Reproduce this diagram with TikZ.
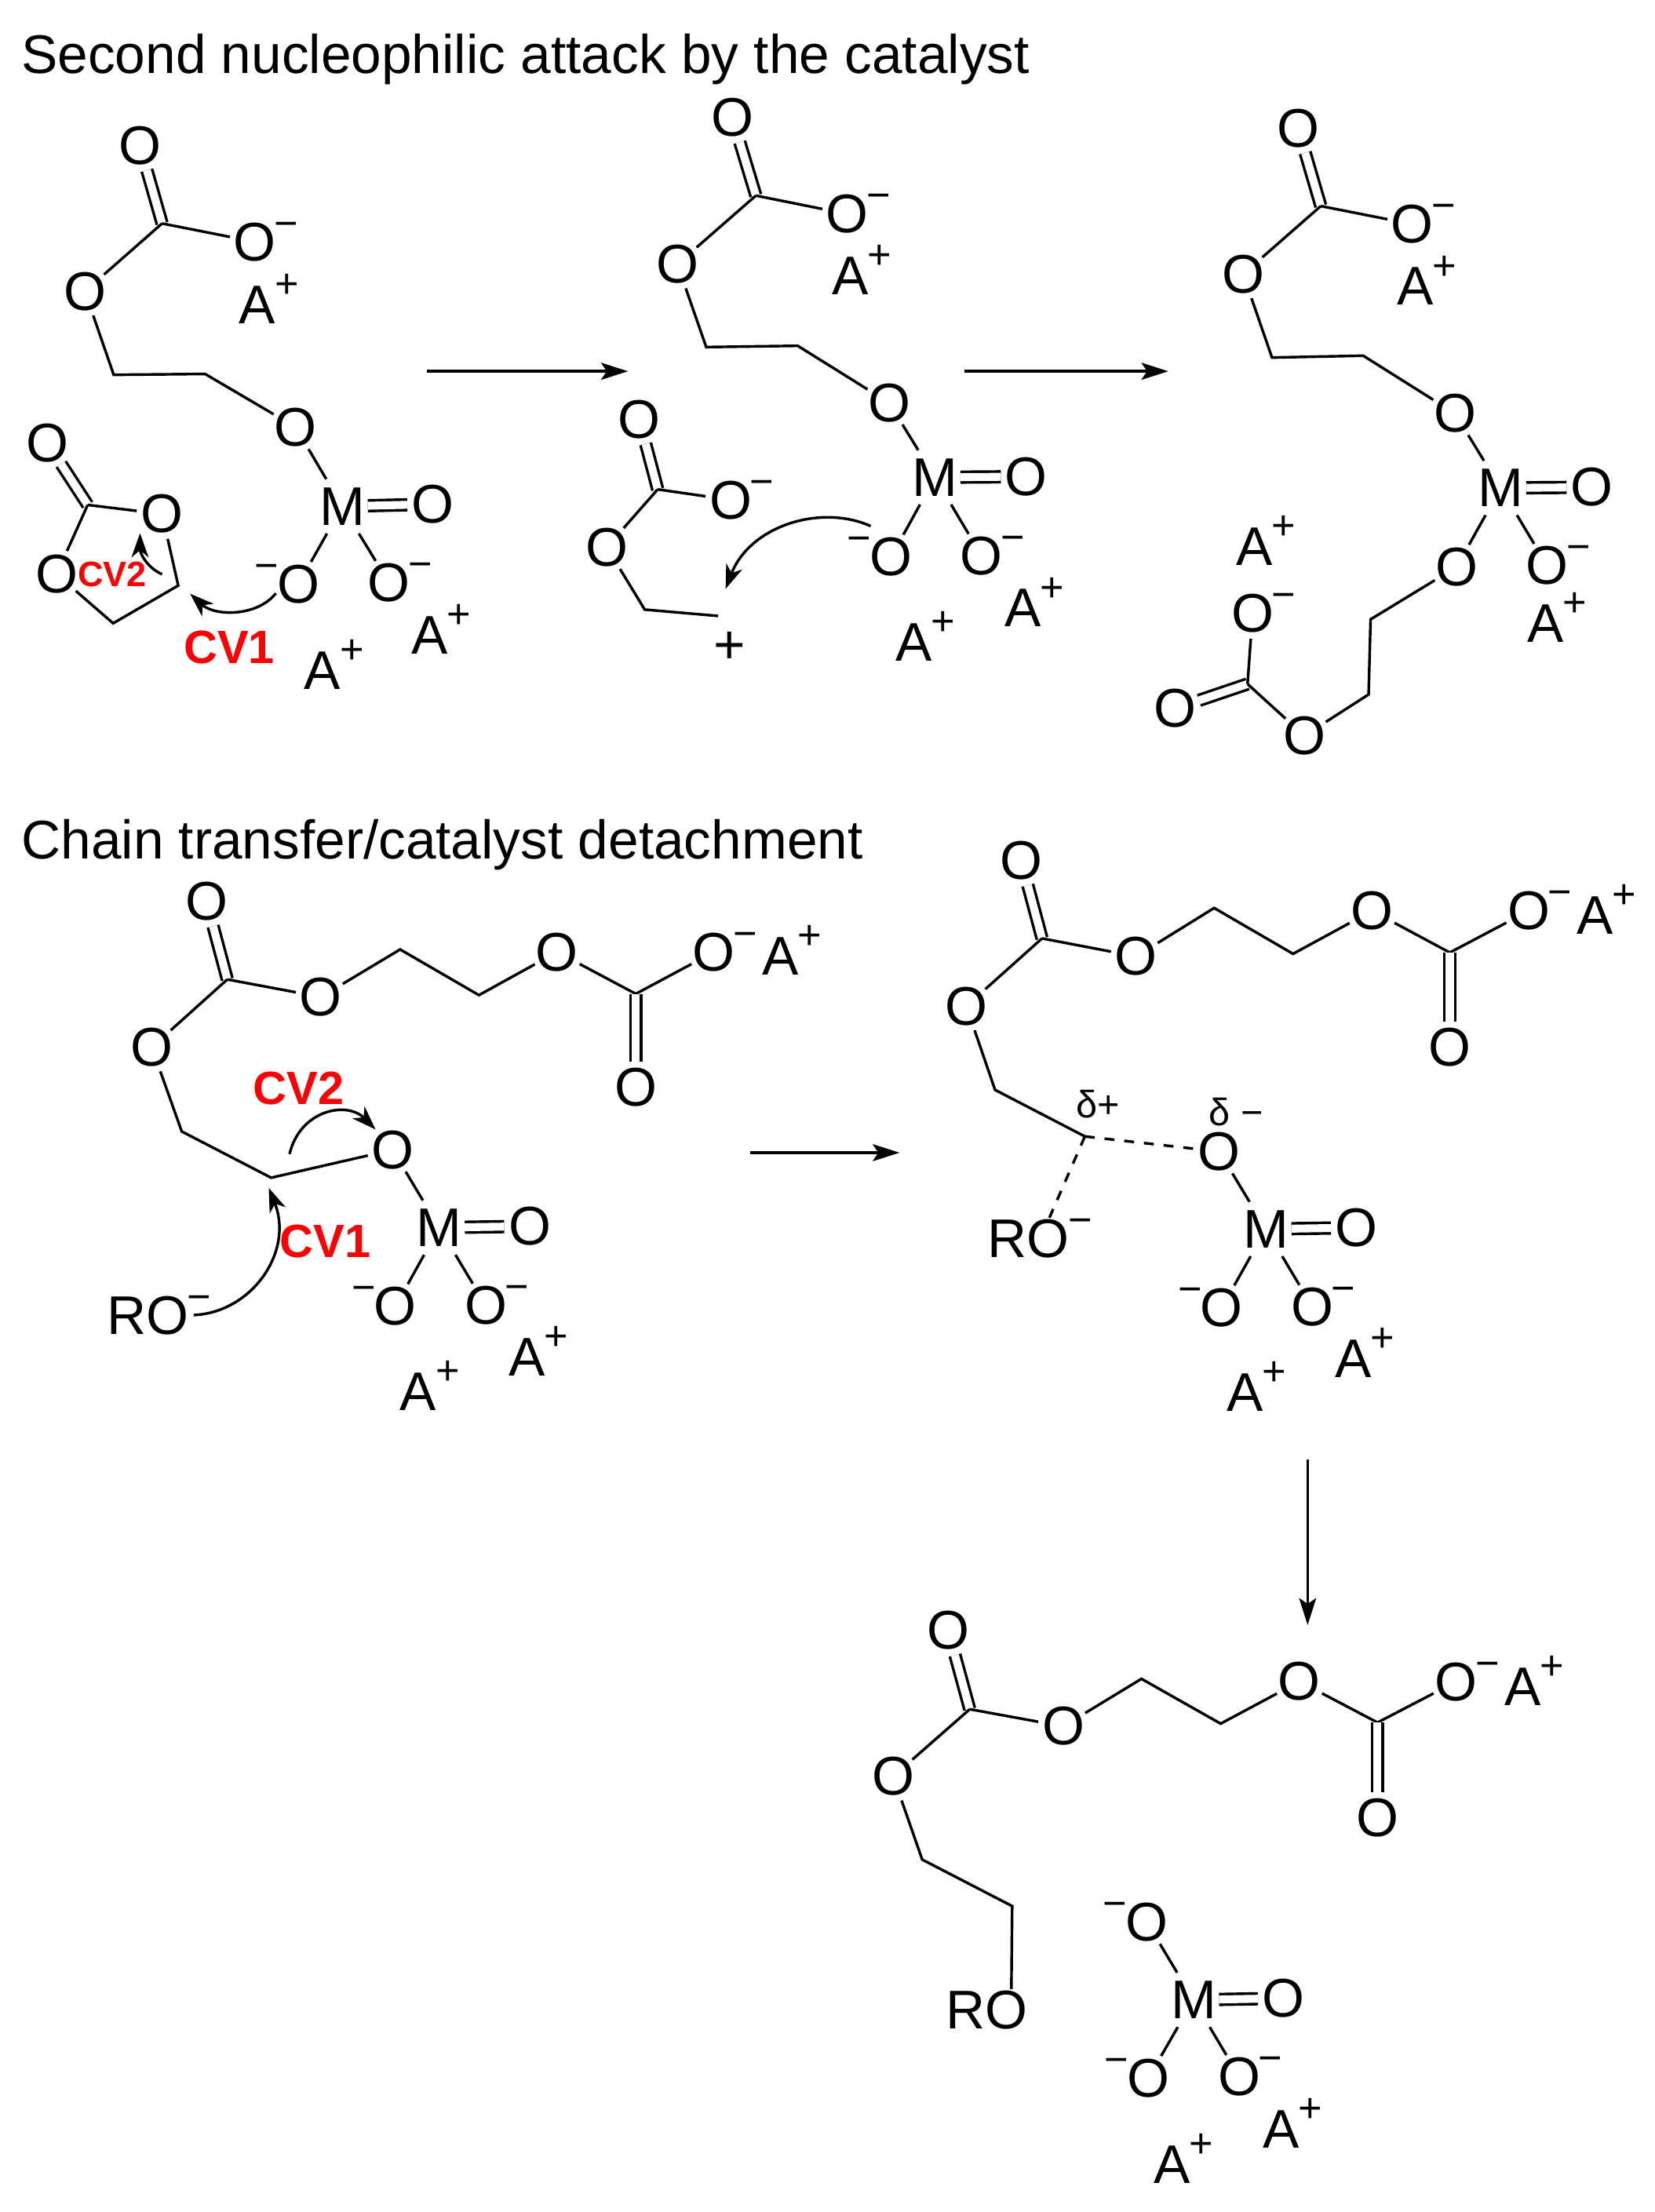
\documentclass[tikz,border=0pt]{standalone}
\usepackage{fontspec}
\usetikzlibrary{arrows.meta}
\setmainfont{Liberation Sans}
\newcommand{\atomfont}{\fontsize{38.5}{41}\selectfont}
\newcommand{\chgfont}{\fontsize{29}{31}\selectfont}
\tikzset{
  atomO/.style={circle, inner sep=-1.5pt, outer sep=0pt, font=\atomfont},
  atomM/.style={rectangle, inner xsep=2pt, inner ysep=6pt, outer sep=0pt, font=\atomfont},
  atomRO/.style={rectangle, inner sep=1pt, outer sep=0pt, font=\atomfont},
  ionA/.style={font=\atomfont, label={[font=\chgfont, xshift=20.7pt, yshift=13.3pt]center:+}},
  negR/.style={label={[font=\chgfont, xshift=22pt, yshift=8.7pt]center:−}},
  negL/.style={label={[font=\chgfont, xshift=-22.5pt, yshift=8.7pt]center:−}},
  negRO/.style={label={[font=\chgfont, xshift=36.5pt, yshift=8.7pt]center:−}},
  titletext/.style={anchor=base west, inner sep=0pt, font=\fontsize{38.5}{41}\selectfont},
  cvbig/.style={text=red, font=\bfseries\fontsize{33}{35}\selectfont},
  cvsmall/.style={text=red, font=\bfseries\fontsize{25}{27}\selectfont},
  deltatext/.style={font=\fontsize{27}{29}\selectfont},
  bondline/.style={line width=1.9pt},
  dblbond/.style={line width=1.9pt, double, double distance=5.6pt},
  dashbond/.style={line width=1.9pt, dash pattern=on 7pt off 7pt},
  reactarrow/.style={line width=1.9pt, -{Stealth[length=19pt, width=12pt, inset=4pt]}},
  curlyarrow/.style={line width=1.9pt, -{Stealth[length=17pt, width=12pt, inset=5pt]}},
}
\begin{document}
\begin{tikzpicture}[x=1pt, y=-1pt]
\useasboundingbox (0,0) rectangle (1170,1564);
\node[titletext] (title1) at (15,51.8) {Second nucleophilic attack by the catalyst};
\node[titletext] (title2) at (15,607.4) {Chain transfer/catalyst detachment};
% first structure, top left
\node[atomO] (a1) at (98.9,103) {O};
\coordinate (a2) at (114.6,158);
\node[atomO,negR] (a3) at (180.3,171) {O};
\node[ionA] (a4) at (182,215.4) {A};
\node[atomO] (a5) at (60,206) {O};
\coordinate (a6) at (80.4,265);
\coordinate (a7) at (145,264.4);
\node[atomO] (a8) at (209,302) {O};
\node[atomM] (a9) at (242,358) {M};
\node[atomO] (a10) at (306,356.5) {O};
\node[atomO,negL] (a11) at (211,413) {O};
\node[atomO,negR] (a12) at (275,412) {O};
\node[ionA] (a13) at (304,449) {A};
\node[ionA] (a14) at (228,474) {A};
\node[atomO] (r1) at (33.4,313) {O};
\coordinate (r2) at (62,357);
\node[atomO] (r3) at (114.6,363.4) {O};
\node[atomO] (r4) at (40,406) {O};
\coordinate (r5) at (126,414);
\coordinate (r6) at (80,440.7);
\draw[dblbond] (a1) -- (a2); % C=O
\draw[bondline] (a2) -- (a3);
\draw[bondline] (a2) -- (a5);
\draw[bondline] (a5) -- (a6) -- (a7) -- (a8);
\draw[bondline] (a8) -- (a9);
\draw[dblbond] (a9) -- (a10); % M=O
\draw[bondline] (a9) -- (a11);
\draw[bondline] (a9) -- (a12);
\draw[dblbond] (r1) -- (r2); % ring C=O
\draw[bondline] (r2) -- (r3);
\draw[bondline] (r2) -- (r4);
\draw[bondline] (r3) -- (r5) -- (r6) -- (r4);
\node[cvbig] (cv1a) at (162,457.7) {CV1};
\node[cvsmall] (cv2a) at (79.3,406) {CV2};
\coordinate (cv1as) at (195,419.5);
\coordinate (cv1ae) at (134.4,419.8);
\coordinate (cv2as) at (114.6,406);
\coordinate (cv2ae) at (99,377);
\draw[curlyarrow] (cv1as) .. controls (182,436) and (152,436) .. (cv1ae);
\draw[curlyarrow] (cv2as) .. controls (105,402) and (99,392) .. (cv2ae);
\coordinate (ar1s) at (302,262.5);
\coordinate (ar1e) at (444,262.5);
\draw[reactarrow] (ar1s) -- (ar1e);
% second structure, top middle
\node[atomO] (b1) at (517.8,83.2) {O};
\coordinate (b2) at (534.4,138.3);
\node[atomO,negR] (b3) at (599.1,151.3) {O};
\node[ionA] (b4) at (601,195) {A};
\node[atomO] (b5) at (478.9,186.8) {O};
\coordinate (b6) at (499.3,245.4);
\coordinate (b7) at (564,244.5);
\node[atomO] (b8) at (628.6,284.8) {O};
\node[atomM] (b9) at (661,337.5) {M};
\node[atomO] (b10) at (725.6,337) {O};
\node[atomO,negL] (b11) at (630,393.9) {O};
\node[atomO,negR] (b12) at (694,393) {O};
\node[ionA] (b13) at (723,430) {A};
\node[ionA] (b14) at (646,454) {A};
\node[atomO] (p1) at (451.9,296.4) {O};
\coordinate (p2) at (465,346);
\node[atomO,negR] (p3) at (516.7,353.5) {O};
\node[atomO] (p4) at (429,386.9) {O};
\coordinate (p5) at (455.8,431);
\coordinate (p6) at (507.7,435.5);
\node[font=\atomfont] (p7) at (515.6,457.7) {+};
\draw[dblbond] (b1) -- (b2);
\draw[bondline] (b2) -- (b3);
\draw[bondline] (b2) -- (b5);
\draw[bondline] (b5) -- (b6) -- (b7) -- (b8);
\draw[bondline] (b8) -- (b9);
\draw[dblbond] (b9) -- (b10);
\draw[bondline] (b9) -- (b11);
\draw[bondline] (b9) -- (b12);
\draw[dblbond] (p1) -- (p2);
\draw[bondline] (p2) -- (p3);
\draw[bondline] (p2) -- (p4);
\draw[bondline] (p4) -- (p5) -- (p6);
\coordinate (cvbs) at (615.6,372);
\coordinate (cvbe) at (513,416.4);
\draw[curlyarrow] (cvbs) .. controls (580,356) and (530,372) .. (cvbe);
\coordinate (ar2s) at (682,262.5);
\coordinate (ar2e) at (826,262.5);
\draw[reactarrow] (ar2s) -- (ar2e);
% third structure, top right
\node[atomO] (c1) at (917.7,90.6) {O};
\coordinate (c2) at (933.8,145.7);
\node[atomO,negR] (c3) at (998.6,158.5) {O};
\node[ionA] (c4) at (1000.4,202.5) {A};
\node[atomO] (c5) at (878.9,193.8) {O};
\coordinate (c6) at (899.3,252.8);
\coordinate (c7) at (963.8,251.5);
\node[atomO] (c8) at (1028.6,292.3) {O};
\node[atomM] (c9) at (1061,345) {M};
\node[atomO] (c10) at (1125.6,344.5) {O};
\node[atomO] (c11) at (1029.8,400.9) {O};
\node[atomO,negR] (c12) at (1093.9,400) {O};
\node[ionA] (c13) at (1092.8,441) {A};
\node[ionA] (c14) at (887,386.5) {A};
\coordinate (c15) at (969,437.9);
\coordinate (c16) at (967.6,491);
\node[atomO] (c17) at (922.2,520.2) {O};
\coordinate (c18) at (882,483.6);
\node[atomO] (c19) at (830.6,501) {O};
\node[atomO,negR] (c20) at (885.6,433.6) {O};
\draw[dblbond] (c1) -- (c2);
\draw[bondline] (c2) -- (c3);
\draw[bondline] (c2) -- (c5);
\draw[bondline] (c5) -- (c6) -- (c7) -- (c8);
\draw[bondline] (c8) -- (c9);
\draw[dblbond] (c9) -- (c10);
\draw[bondline] (c9) -- (c11);
\draw[bondline] (c9) -- (c12);
\draw[bondline] (c11) -- (c15) -- (c16) -- (c17);
\draw[dblbond] (c19) -- (c18);
\draw[bondline] (c17) -- (c18);
\draw[bondline] (c18) -- (c20);
% chain transfer, left structure
\node[atomO] (d1) at (146,637.4) {O};
\coordinate (d2) at (160.7,692.5);
\node[atomO] (d3) at (226.9,704.9) {O};
\coordinate (d4) at (282.9,671.3);
\coordinate (d5) at (338.6,703.6);
\node[atomO] (d6) at (393.9,673.1) {O};
\coordinate (d7) at (449.5,702.7);
\node[atomO,negR] (d8) at (504.8,673.1) {O};
\node[ionA] (d9) at (551.8,676.2) {A};
\node[atomO] (d10) at (449.5,768.9) {O};
\node[atomO] (d11) at (107.3,740.5) {O};
\coordinate (d12) at (128.5,800);
\coordinate (d13) at (191.7,832.7);
\node[atomO] (d14) at (277.6,813) {O};
\node[atomM] (d15) at (310.5,868) {M};
\node[atomO] (d16) at (374.5,867) {O};
\node[atomO,negL] (d17) at (279.6,923.7) {O};
\node[atomO,negR] (d18) at (343.5,923) {O};
\node[ionA] (d19) at (372.5,959.6) {A};
\node[ionA] (d20) at (295.7,984) {A};
\node[atomRO,negRO] (d21) at (104.5,930.3) {RO};
\draw[dblbond] (d1) -- (d2);
\draw[bondline] (d2) -- (d3);
\draw[bondline] (d3) -- (d4) -- (d5) -- (d6);
\draw[bondline] (d6) -- (d7);
\draw[bondline] (d7) -- (d8);
\draw[dblbond] (d10) -- (d7);
\draw[bondline] (d2) -- (d11);
\draw[bondline] (d11) -- (d12) -- (d13) -- (d14);
\draw[bondline] (d14) -- (d15);
\draw[dblbond] (d15) -- (d16);
\draw[bondline] (d15) -- (d17);
\draw[bondline] (d15) -- (d18);
\node[cvbig] (cv2d) at (211,769.3) {CV2};
\node[cvbig] (cv1d) at (230,877.9) {CV1};
\coordinate (cv1ds) at (137,929.8);
\coordinate (cv1de) at (190,839.9);
\coordinate (cv2ds) at (204.7,816);
\coordinate (cv2de) at (265.5,798.6);
\draw[curlyarrow] (cv1ds) .. controls (178,928) and (208,885) .. (cv1de);
\draw[curlyarrow] (cv2ds) .. controls (212,785) and (245,778) .. (cv2de);
\coordinate (ar3s) at (530.5,815);
\coordinate (ar3e) at (636,815);
\draw[reactarrow] (ar3s) -- (ar3e);
% chain transfer, right structure
\node[atomO] (e1) at (722,608.4) {O};
\coordinate (e2) at (736.7,663.5);
\node[atomO] (e3) at (803.2,676.2) {O};
\coordinate (e4) at (858.4,642);
\coordinate (e5) at (914.2,674.4);
\node[atomO] (e6) at (970,644) {O};
\coordinate (e7) at (1025,673.5);
\node[atomO,negR] (e8) at (1080.9,644) {O};
\node[ionA] (e9) at (1127.8,647.2) {A};
\node[atomO] (e10) at (1025,740.2) {O};
\node[atomO] (e11) at (683.2,711.4) {O};
\coordinate (e12) at (703.5,770.6);
\coordinate (e13) at (767,803.5);
\node[atomO] (e14) at (862,814.2) {O};
\node[atomM] (e15) at (895,869) {M};
\node[atomO] (e16) at (959,868) {O};
\node[atomO,negL] (e17) at (863.8,924.6) {O};
\node[atomO,negR] (e18) at (927.9,924) {O};
\node[ionA] (e19) at (956.6,960.7) {A};
\node[ionA] (e20) at (880,984.7) {A};
\node[atomRO,negRO] (e21) at (727.3,875.6) {RO};
\node[deltatext] (e22) at (776.5,780.7) {δ+};
\node[deltatext] (e23) at (874,786) {δ −};
\draw[dblbond] (e1) -- (e2);
\draw[bondline] (e2) -- (e3);
\draw[bondline] (e3) -- (e4) -- (e5) -- (e6);
\draw[bondline] (e6) -- (e7);
\draw[bondline] (e7) -- (e8);
\draw[dblbond] (e10) -- (e7);
\draw[bondline] (e2) -- (e11);
\draw[bondline] (e11) -- (e12) -- (e13);
\draw[dashbond] (e13) -- (e14);
\draw[dashbond] (e13) -- (e21.45);
\draw[bondline] (e14) -- (e15);
\draw[dblbond] (e15) -- (e16);
\draw[bondline] (e15) -- (e17);
\draw[bondline] (e15) -- (e18);
\coordinate (ar4s) at (924.5,1032);
\coordinate (ar4e) at (924.5,1149);
\draw[reactarrow] (ar4s) -- (ar4e);
% product and released catalyst
\node[atomO] (f1) at (670.4,1152.8) {O};
\coordinate (f2) at (685.6,1208.5);
\node[atomO] (f3) at (751.8,1220.6) {O};
\coordinate (f4) at (807,1187);
\coordinate (f5) at (863,1218.7);
\node[atomO] (f6) at (918.7,1188.9) {O};
\coordinate (f7) at (973.9,1217.9);
\node[atomO,negR] (f8) at (1029.5,1189) {O};
\node[ionA] (f9) at (1076.6,1192.4) {A};
\node[atomO] (f10) at (973.9,1285) {O};
\node[atomO] (f11) at (631.5,1256) {O};
\coordinate (f12) at (652,1314.8);
\coordinate (f13) at (715.6,1347.7);
\node[atomRO] (f14) at (697.6,1421) {RO};
\draw[dblbond] (f1) -- (f2);
\draw[bondline] (f2) -- (f3);
\draw[bondline] (f3) -- (f4) -- (f5) -- (f6);
\draw[bondline] (f6) -- (f7);
\draw[bondline] (f7) -- (f8);
\draw[dblbond] (f10) -- (f7);
\draw[bondline] (f2) -- (f11);
\draw[bondline] (f11) -- (f12) -- (f13) -- (f14.40);
\node[atomO,negL] (g1) at (810.8,1359) {O};
\node[atomM] (g2) at (843.8,1414) {M};
\node[atomO] (g3) at (907.4,1412.9) {O};
\node[atomO,negL] (g4) at (811.9,1469.3) {O};
\node[atomO,negR] (g5) at (876.3,1468.5) {O};
\node[ionA] (g6) at (905.6,1505.6) {A};
\node[ionA] (g7) at (828.8,1530.4) {A};
\draw[bondline] (g1) -- (g2);
\draw[dblbond] (g2) -- (g3);
\draw[bondline] (g2) -- (g4);
\draw[bondline] (g2) -- (g5);
\end{tikzpicture}
\end{document}
